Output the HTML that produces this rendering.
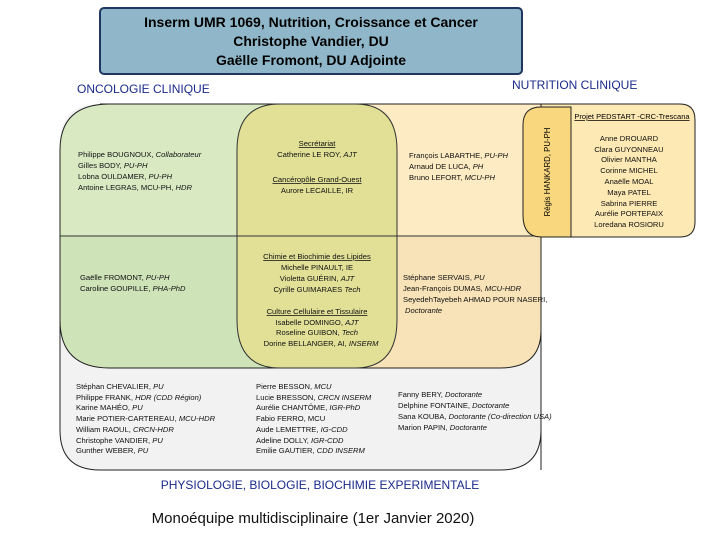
<!DOCTYPE html>
<html><head><meta charset="utf-8"><style>
body{margin:0;width:720px;height:540px;background:#fff;overflow:hidden;font-family:"Liberation Sans",sans-serif}
svg text{font-family:"Liberation Sans",sans-serif}
.t{font-size:7.6px;fill:#111}
</style></head><body>
<svg width="720" height="540" viewBox="0 0 720 540">
<rect x="100" y="8" width="422" height="66" rx="4" fill="#8fb7c9" stroke="#1f3760" stroke-width="2"/>
<text x="311" y="27" text-anchor="middle" font-size="14" font-weight="bold">Inserm UMR 1069, Nutrition, Croissance et Cancer</text>
<text x="311" y="46" text-anchor="middle" font-size="14" font-weight="bold">Christophe Vandier, DU</text>
<text x="311" y="65" text-anchor="middle" font-size="14" font-weight="bold">Gaëlle Fromont, DU Adjointe</text>
<text x="77" y="93" font-size="12" fill="#1a2a8a">ONCOLOGIE CLINIQUE</text>
<text x="512" y="89" font-size="12" fill="#1a2a8a">NUTRITION CLINIQUE</text>

<!-- gray base -->
<path d="M100,104 H541 V430 Q541,470 500,470 H100 Q60,470 60,430 V144 Q60,104 100,104Z" fill="#f2f2f2" stroke="none"/>
<path d="M60,300 V430 Q60,470 100,470 H500 Q541,470 541,430" fill="none" stroke="#222"/>
<!-- yellow right -->
<path d="M300,104 H541 V236 H300Z" fill="#fdebc3"/>
<path d="M330,236 H541 V330 Q541,368 500,368 H330Z" fill="#f7e3b7" stroke="#222"/>
<!-- green top -->
<path d="M60,236 V150 Q60,104 110,104 H300 V236Z" fill="#d9eac3"/>
<path d="M300,236 H60 V150 Q60,104 110,104 H300" fill="none" stroke="#222"/>
<!-- green bottom -->
<path d="M60,236 H330 V368 H110 Q60,368 60,320Z" fill="#cfe3b9"/>
<path d="M330,368 H110 Q60,368 60,320 V236" fill="none" stroke="#222"/>
<line x1="60" y1="236" x2="541" y2="236" stroke="#333"/>
<path d="M100,104 H541 V470" fill="none" stroke="#222"/>
<!-- olive middle -->
<path d="M280,104 H355 Q397,104 397,150 V320 Q397,368 355,368 H280 Q237,368 237,320 V150 Q237,104 280,104Z" fill="#e1e096" stroke="#333"/>
<line x1="237" y1="236" x2="397" y2="236" stroke="#333"/>

<!-- PEDSTART -->
<path d="M541,104 H680 Q695,104 695,120 V222 Q695,237 680,237 H541Z" fill="#fde9b3" stroke="#222"/>
<path d="M541,107 Q523,107 523,125 V215 Q523,237 541,237 H571 V107Z" fill="#f8d77e" stroke="#222"/>
<text x="632" y="119" text-anchor="middle" font-size="7.5" text-decoration="underline">Projet PEDSTART -CRC-Trescana</text>
<text transform="translate(550,172) rotate(-90)" text-anchor="middle" font-size="7.8">Régis HANKARD, PU-PH</text>
<g class="t" text-anchor="middle">
<text x="629" y="141">Anne DROUARD</text><text x="629" y="152">Clara GUYONNEAU</text><text x="629" y="162">Olivier MANTHA</text><text x="629" y="173">Corinne MICHEL</text><text x="629" y="184">Anaëlle MOAL</text><text x="629" y="195">Maya PATEL</text><text x="629" y="206">Sabrina PIERRE</text><text x="629" y="216">Aurélie PORTEFAIX</text><text x="629" y="227">Loredana ROSIORU</text>
</g>

<g class="t">
<text x="78" y="157">Philippe BOUGNOUX, <tspan font-style="italic">Collaborateur</tspan></text>
<text x="78" y="168">Gilles BODY, <tspan font-style="italic">PU-PH</tspan></text>
<text x="78" y="179">Lobna OULDAMER, <tspan font-style="italic">PU-PH</tspan></text>
<text x="78" y="190">Antoine LEGRAS, MCU-PH, <tspan font-style="italic">HDR</tspan></text>
<text x="80" y="280">Gaëlle FROMONT, <tspan font-style="italic">PU-PH</tspan></text>
<text x="80" y="291">Caroline GOUPILLE, <tspan font-style="italic">PHA-PhD</tspan></text>
<text x="409" y="158">François LABARTHE, <tspan font-style="italic">PU-PH</tspan></text>
<text x="409" y="169">Arnaud DE LUCA, <tspan font-style="italic">PH</tspan></text>
<text x="409" y="180">Bruno LEFORT, <tspan font-style="italic">MCU-PH</tspan></text>
<text x="403" y="280">Stéphane SERVAIS, <tspan font-style="italic">PU</tspan></text>
<text x="403" y="291">Jean-François DUMAS, <tspan font-style="italic">MCU-HDR</tspan></text>
<text x="403" y="302">SeyedehTayebeh AHMAD POUR NASERI,</text>
<text x="405" y="313" font-style="italic">Doctorante</text>
</g>
<g class="t" text-anchor="middle">
<text x="317" y="146" text-decoration="underline">Secrétariat</text>
<text x="317" y="157">Catherine LE ROY, <tspan font-style="italic">AJT</tspan></text>
<text x="317" y="182" text-decoration="underline">Cancéropôle Grand-Ouest</text>
<text x="317" y="193">Aurore LECAILLE, IR</text>
<text x="317" y="259" text-decoration="underline">Chimie et Biochimie des Lipides</text>
<text x="317" y="270">Michelle PINAULT, IE</text>
<text x="317" y="281">Violetta GUÉRIN, <tspan font-style="italic">AJT</tspan></text>
<text x="317" y="292">Cyrille GUIMARAES <tspan font-style="italic">Tech</tspan></text>
<text x="317" y="314" text-decoration="underline">Culture Cellulaire et Tissulaire</text>
<text x="317" y="325">Isabelle DOMINGO, <tspan font-style="italic">AJT</tspan></text>
<text x="317" y="335">Roseline GUIBON, <tspan font-style="italic">Tech</tspan></text>
<text x="321" y="346">Dorine BELLANGER, AI, <tspan font-style="italic">INSERM</tspan></text>
</g>
<g class="t">
<text x="76" y="389">Stéphan CHEVALIER, <tspan font-style="italic">PU</tspan></text>
<text x="76" y="400">Philippe FRANK, <tspan font-style="italic">HDR (CDD Région)</tspan></text>
<text x="76" y="410">Karine MAHÉO, <tspan font-style="italic">PU</tspan></text>
<text x="76" y="421">Marie POTIER-CARTEREAU, <tspan font-style="italic">MCU-HDR</tspan></text>
<text x="76" y="432">William RAOUL, <tspan font-style="italic">CRCN-HDR</tspan></text>
<text x="76" y="443">Christophe VANDIER, <tspan font-style="italic">PU</tspan></text>
<text x="76" y="453">Gunther WEBER, <tspan font-style="italic">PU</tspan></text>
<text x="256" y="389">Pierre BESSON, <tspan font-style="italic">MCU</tspan></text>
<text x="256" y="400">Lucie BRESSON, <tspan font-style="italic">CRCN INSERM</tspan></text>
<text x="256" y="410">Aurélie CHANTÔME, <tspan font-style="italic">IGR-PhD</tspan></text>
<text x="256" y="421">Fabio FERRO, MCU</text>
<text x="256" y="432">Aude LEMETTRE, <tspan font-style="italic">IG-CDD</tspan></text>
<text x="256" y="443">Adeline DOLLY, <tspan font-style="italic">IGR-CDD</tspan></text>
<text x="256" y="453">Emilie GAUTIER, <tspan font-style="italic">CDD INSERM</tspan></text>
<text x="398" y="397">Fanny BERY, <tspan font-style="italic">Doctorante</tspan></text>
<text x="398" y="408">Delphine FONTAINE, <tspan font-style="italic">Doctorante</tspan></text>
<text x="398" y="419">Sana KOUBA, <tspan font-style="italic">Doctorante (Co-direction USA)</tspan></text>
<text x="398" y="430">Marion PAPIN, <tspan font-style="italic">Doctorante</tspan></text>
</g>
<text x="320" y="489" text-anchor="middle" font-size="12" fill="#1a2a8a">PHYSIOLOGIE, BIOLOGIE, BIOCHIMIE EXPERIMENTALE</text>
<text x="313" y="523" text-anchor="middle" font-size="15" fill="#111">Monoéquipe  multidisciplinaire (1er Janvier 2020)</text>
</svg>
</body></html>
